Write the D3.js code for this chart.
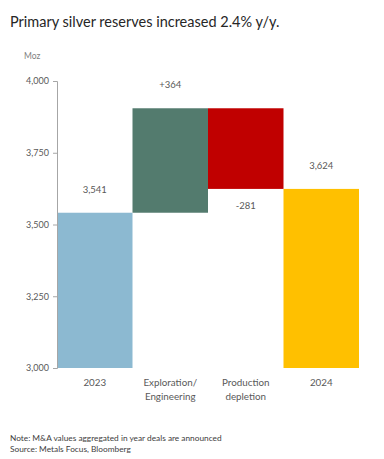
<!DOCTYPE html>
<html lang="en">
    <head>
        <meta charset="utf-8">
        <title>Primary silver reserves waterfall</title>
        <script src="https://d3js.org/d3.v7.min.js"></script>
        <style type="text/css">
            body { margin: 0; background: #fff; }
            text { font-family: Lato, "Open Sans", sans-serif; }
        </style>
    </head>
    <body>
        <script type="text/javascript">

            const svgW = 384;
            const svgH = 459;

            const categories = [["2023"], ["Exploration/", "Engineering"], ["Production", "depletion"], ["2024"]];
            const kinds = ["total", "delta", "delta", "total"];
            const values = [3541, 364, -281, 3624];
            const valueLabels = ["3,541", "+364", "-281", "3,624"];
            const colors = ["#8cb9d1", "#537b6e", "#c00000", "#ffc000"];
            const yTicks = [3000, 3250, 3500, 3750, 4000];

            // waterfall: each delta floats on the running total
            let running = 0;
            const bars = values.map((v, i) => {
                let lo, hi;
                if (kinds[i] === "total") {
                    lo = 3000; hi = v; running = v;
                } else {
                    lo = Math.min(running, running + v);
                    hi = Math.max(running, running + v);
                    running += v;
                }
                return {i: i, lo: lo, hi: hi, v: v};
            });

            const xScale = d3.scaleBand()
                             .domain(d3.range(categories.length))
                             .range([57, 359])
                             .padding(0);

            const yScale = d3.scaleLinear()
                             .domain([3000, 4000])
                             .range([368, 81]);

            const svg = d3.select("body")
                    .append("svg")
                    .attr("width", svgW)
                    .attr("height", svgH);

            svg.append("text")
               .attr("x", 10)
               .attr("y", 27)
               .attr("font-size", 14.5)
               .attr("fill", "#262626")
               .text("Primary silver reserves increased 2.4% y/y.");

            svg.append("text")
               .attr("x", 24)
               .attr("y", 59)
               .attr("font-size", 8.5)
               .attr("fill", "#7f7f7f")
               .text("Moz");

            svg.selectAll("rect.bar")
               .data(bars)
               .enter()
               .append("rect")
               .attr("class", "bar")
               .attr("x", d => xScale(d.i))
               .attr("width", xScale.bandwidth())
               .attr("y", d => yScale(d.hi))
               .attr("height", d => yScale(d.lo) - yScale(d.hi))
               .attr("fill", (d, i) => colors[i]);

            const leftAxis = d3.axisLeft()
                             .scale(yScale)
                             .tickValues(yTicks)
                             .tickSize(4)
                             .tickPadding(4)
                             .tickFormat(d3.format(","));

            const ax = svg.append("g")
                 .attr("transform", "translate(57,0)")
                 .call(leftAxis);
            ax.select(".domain").attr("stroke", "#a6a6a6");
            ax.selectAll(".tick line").attr("stroke", "#a6a6a6");
            ax.selectAll(".tick text")
              .attr("fill", "#595959")
              .attr("font-size", 9)
              .attr("font-family", "Lato, sans-serif");

            svg.selectAll("text.val")
               .data(bars)
               .enter()
               .append("text")
               .attr("class", "val")
               .attr("x", d => xScale(d.i) + xScale.bandwidth() / 2)
               .attr("y", d => d.v < 0 ? yScale(d.lo) + 20 : yScale(d.hi) - 20)
               .attr("text-anchor", "middle")
               .attr("font-size", 9.5)
               .attr("fill", "#595959")
               .text((d, i) => valueLabels[i]);

            const cat = svg.selectAll("text.cat")
               .data(categories)
               .enter()
               .append("text")
               .attr("class", "cat")
               .attr("text-anchor", "middle")
               .attr("font-size", 9.8)
               .attr("fill", "#595959");
            cat.selectAll("tspan")
               .data((d, i) => d.map(s => ({s: s, i: i})))
               .enter()
               .append("tspan")
               .attr("x", d => xScale(d.i) + xScale.bandwidth() / 2)
               .attr("y", (d, j) => 386 + j * 13.5)
               .text(d => d.s);

            svg.append("text")
               .attr("x", 10)
               .attr("y", 441)
               .attr("font-size", 8.3)
               .attr("fill", "#404040")
               .text("Note: M&A values aggregated in year deals are announced");

            svg.append("text")
               .attr("x", 10)
               .attr("y", 452)
               .attr("font-size", 8.3)
               .attr("fill", "#404040")
               .text("Source: Metals Focus, Bloomberg");

        </script>
    </body>
</html>
